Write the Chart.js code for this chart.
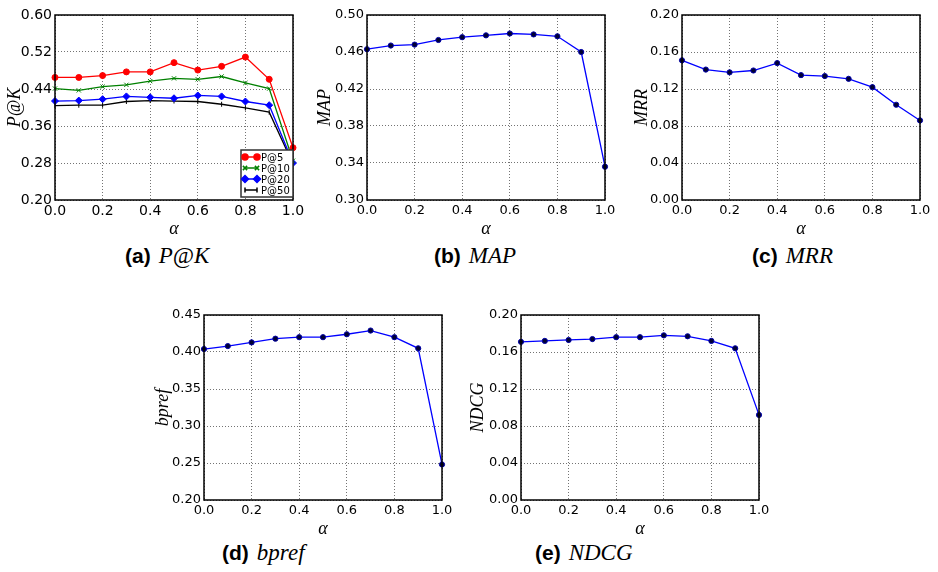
<!DOCTYPE html>
<html lang="en">
<head>
<meta charset="UTF-8">
<title>Parameter sensitivity (alpha)</title>
<script src="https://cdn.jsdelivr.net/npm/chart.js"></script>
<style>
  body { margin: 0; background: #fff; }
  #wrap { position: relative; width: 938px; height: 572px; overflow: hidden; }
  canvas { position: absolute; }
  .cap { position: absolute; white-space: nowrap; line-height: 1; }
  .cap b { font-family: "Liberation Sans", Arial, sans-serif; font-size: 21px; font-weight: bold; }
  .cap i { font-family: "Liberation Serif", serif; font-size: 23px; margin-left: 8px; }
</style>
</head>
<body>
<div id="wrap">
  <canvas id="cA" width="308" height="240" style="left:0px;top:0px"></canvas>
  <canvas id="cB" width="308" height="240" style="left:312px;top:0px"></canvas>
  <canvas id="cC" width="308" height="240" style="left:627px;top:0px"></canvas>
  <canvas id="cD" width="308" height="240" style="left:149px;top:300px"></canvas>
  <canvas id="cE" width="308" height="240" style="left:466px;top:300px"></canvas>
  <div class="cap" style="left:125px;top:244px"><b>(a)</b><i>P@K</i></div>
  <div class="cap" style="left:434px;top:244px"><b>(b)</b><i>MAP</i></div>
  <div class="cap" style="left:752px;top:244px"><b>(c)</b><i>MRR</i></div>
  <div class="cap" style="left:222px;top:541px"><b>(d)</b><i>bpref</i></div>
  <div class="cap" style="left:535px;top:541px"><b>(e)</b><i>NDCG</i></div>
</div>
<script>
// x values (alpha)
const alpha = [0.0, 0.1, 0.2, 0.3, 0.4, 0.5, 0.6, 0.7, 0.8, 0.9, 1.0];

// (a) precision at K
const p5  = [0.465, 0.465, 0.469, 0.477, 0.477, 0.497, 0.481, 0.489, 0.509, 0.461, 0.313];
const p10 = [0.441, 0.437, 0.445, 0.449, 0.457, 0.463, 0.461, 0.467, 0.453, 0.441, 0.285];
const p20 = [0.414, 0.415, 0.418, 0.424, 0.422, 0.420, 0.426, 0.424, 0.413, 0.405, 0.280];
const p50 = [0.404, 0.405, 0.405, 0.413, 0.415, 0.414, 0.413, 0.407, 0.399, 0.390, 0.278];

// (b)-(e) single metrics
const mapVals   = [0.463, 0.467, 0.468, 0.473, 0.476, 0.478, 0.480, 0.479, 0.477, 0.460, 0.336];
const mrrVals   = [0.151, 0.141, 0.138, 0.140, 0.148, 0.135, 0.134, 0.131, 0.122, 0.103, 0.086];
const bprefVals = [0.404, 0.408, 0.413, 0.418, 0.420, 0.420, 0.424, 0.429, 0.420, 0.405, 0.248];
const ndcgVals  = [0.171, 0.172, 0.173, 0.174, 0.176, 0.176, 0.178, 0.177, 0.172, 0.164, 0.092];

const serif = '"Liberation Serif", "DejaVu Serif", serif';
Chart.defaults.font.family = '"DejaVu Sans", sans-serif';
Chart.defaults.color = '#000';

function pts(vals) {
  return alpha.map((a, i) => ({ x: a, y: vals[i] }));
}

// black frame round the plot area, like matplotlib's spines
const framePlugin = {
  id: 'frame',
  afterDatasetsDraw(chart) {
    const a = chart.chartArea, ctx = chart.ctx;
    ctx.save();
    ctx.strokeStyle = '#000';
    ctx.lineWidth = 1.5;
    ctx.strokeRect(a.left, a.top, a.right - a.left, a.bottom - a.top);
    ctx.restore();
  }
};

// legend drawn inside the lower right corner (only for P@K)
const insideLegend = {
  id: 'insideLegend',
  afterDraw(chart) {
    if (!chart.options.plugins.insideLegend || !chart.options.plugins.insideLegend.show) return;
    const a = chart.chartArea, ctx = chart.ctx;
    const w = 52, h = 47;
    const x0 = a.right - w, y0 = a.bottom - 3 - h;
    ctx.save();
    ctx.fillStyle = '#fff';
    ctx.fillRect(x0, y0, w, h);
    ctx.strokeStyle = '#333';
    ctx.lineWidth = 1.5;
    ctx.strokeRect(x0, y0, w, h);
    ctx.font = '10px "DejaVu Sans"';
    ctx.textBaseline = 'middle';
    chart.data.datasets.forEach((ds, i) => {
      const y = y0 + 7 + i * 11;
      ctx.strokeStyle = ds.borderColor;
      ctx.lineWidth = 1.5;
      ctx.beginPath();
      ctx.moveTo(x0 + 4, y);
      ctx.lineTo(x0 + 16, y);
      ctx.stroke();
      ctx.fillStyle = ds.pointBackgroundColor;
      ctx.strokeStyle = ds.pointBorderColor || ds.borderColor;
      const opt = { pointStyle: ds.pointStyle, radius: ds.pointRadius, rotation: ds.pointRotation || 0, borderWidth: 1.2 };
      Chart.helpers.drawPoint(ctx, opt, x0 + 4, y);
      Chart.helpers.drawPoint(ctx, opt, x0 + 16, y);
      ctx.fillStyle = '#000';
      ctx.fillText(ds.label, x0 + 20, y + 1);
    });
    ctx.restore();
  }
};

function makeChart(id, datasets, yLabel, yMin, yMax, yStep, legend, tickSize, titlePad) {
  return new Chart(document.getElementById(id), {
    type: 'line',
    data: { datasets: datasets },
    options: {
      responsive: false,
      animation: false,
      events: [],
      layout: { autoPadding: false, padding: { top: 15, right: 15, left: 0, bottom: 0 } },
      elements: { line: { tension: 0, borderWidth: 1.3 } },
      plugins: {
        legend: { display: false },
        tooltip: { enabled: false },
        insideLegend: { show: legend }
      },
      scales: {
        x: {
          type: 'linear', min: 0, max: 1,
          afterFit(axis) { axis.height = 40; },
          ticks: { stepSize: 0.2, padding: 3, maxRotation: 0, font: { size: tickSize },
                   callback: v => v.toFixed(1) },
          grid: { color: 'rgba(0,0,0,0.55)', borderDash: [1, 2], drawTicks: false, lineWidth: 1 },
          border: { display: false, dash: [1, 2] },
          title: { display: true, text: 'α', padding: { top: 9, bottom: 0 },
                   font: { family: serif, size: 18, style: 'italic' } }
        },
        y: {
          min: yMin, max: yMax,
          afterFit(axis) { axis.width = 55; },
          ticks: { stepSize: yStep, padding: 3, font: { size: tickSize },
                   callback: v => v.toFixed(2) },
          grid: { color: 'rgba(0,0,0,0.55)', drawTicks: false, lineWidth: 1 },
          border: { display: false, dash: [1, 2] },
          title: { display: true, text: yLabel, padding: { top: titlePad, bottom: 0 },
                   font: { family: serif, size: 18, style: 'italic' } }
        }
      }
    },
    plugins: [framePlugin, insideLegend]
  });
}

function single(vals) {
  return [{
    label: '', data: pts(vals), borderColor: '#0000ff', clip: false,
    pointStyle: 'circle', pointRadius: 2.6, pointBackgroundColor: '#000033',
    pointBorderColor: '#0000aa', pointBorderWidth: 1
  }];
}

makeChart('cA', [
  { label: 'P@5', data: pts(p5), borderColor: '#ff0000', pointStyle: 'circle', pointRadius: 3,
    pointBackgroundColor: '#ff0000', pointBorderColor: '#ff0000', clip: false },
  { label: 'P@10', data: pts(p10), borderColor: '#008000', pointStyle: 'crossRot', pointRadius: 3,
    pointBackgroundColor: '#008000', pointBorderColor: '#008000', clip: false },
  { label: 'P@20', data: pts(p20), borderColor: '#0000ff', pointStyle: 'rectRot', pointRadius: 3.5,
    pointBackgroundColor: '#0000ff', pointBorderColor: '#0000ff', clip: false },
  { label: 'P@50', data: pts(p50), borderColor: '#000000', pointStyle: 'line', pointRotation: 90,
    pointRadius: 2.5, pointBackgroundColor: '#000000', pointBorderColor: '#000000', clip: false }
], 'P@K', 0.20, 0.60, 0.08, true, 14, 4);

makeChart('cB', single(mapVals), 'MAP', 0.30, 0.50, 0.04, false, 13, 2);
makeChart('cC', single(mrrVals), 'MRR', 0.00, 0.20, 0.04, false, 13, 4);
makeChart('cD', single(bprefVals), 'bpref', 0.20, 0.45, 0.05, false, 13, 3);
makeChart('cE', single(ndcgVals), 'NDCG', 0.00, 0.20, 0.04, false, 13, 1);
</script>
</body>
</html>
